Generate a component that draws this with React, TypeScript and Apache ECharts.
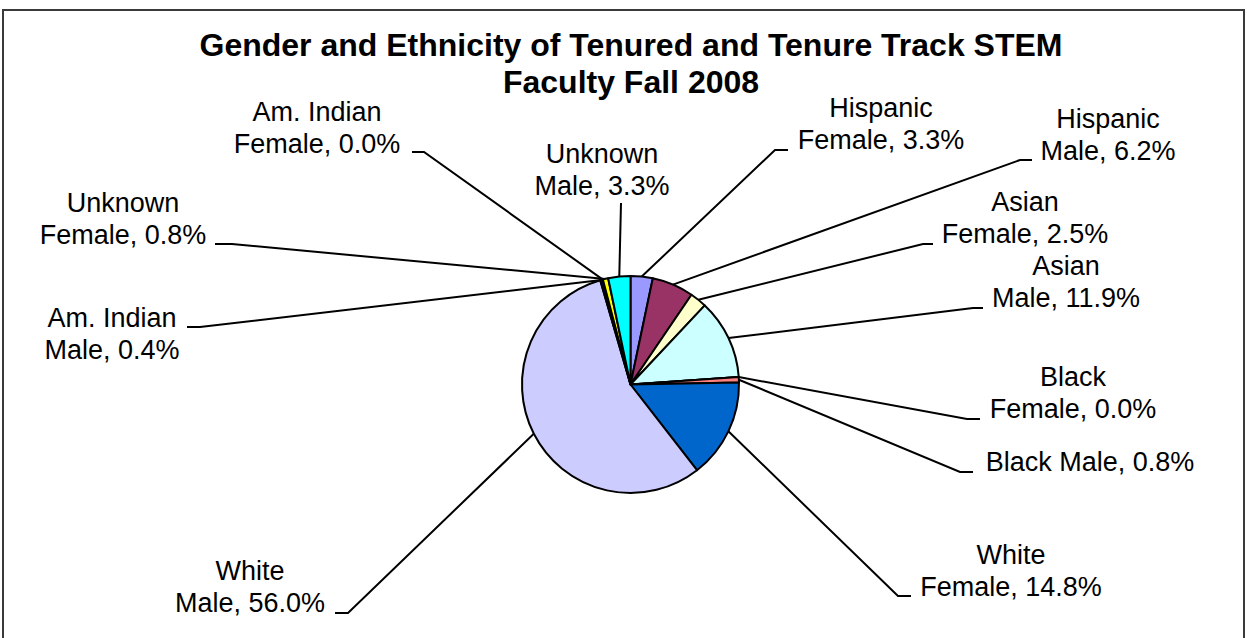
import React, { useEffect, useRef } from "react";
import * as echarts from "echarts";

// ---- data (clockwise from 12 o'clock) ----
const categories = [
  "Hispanic Female",
  "Hispanic Male",
  "Asian Female",
  "Asian Male",
  "Black Female",
  "Black Male",
  "White Female",
  "White Male",
  "Am. Indian Male",
  "Am. Indian Female",
  "Unknown Female",
  "Unknown Male",
];
const values = [3.3, 6.2, 2.5, 11.9, 0.0, 0.8, 14.8, 56.0, 0.4, 0.0, 0.8, 3.3];
const labelNames = [
  "Hispanic\nFemale",
  "Hispanic\nMale",
  "Asian\nFemale",
  "Asian\nMale",
  "Black\nFemale",
  "Black Male",
  "White\nFemale",
  "White\nMale",
  "Am. Indian\nMale",
  "Am. Indian\nFemale",
  "Unknown\nFemale",
  "Unknown\nMale",
];
const titleText = "Gender and Ethnicity of Tenured and Tenure Track STEM\nFaculty Fall 2008";

// ---- styles ----
const colors = [
  "#9999FF",
  "#993366",
  "#FFFFCC",
  "#CCFFFF",
  "#660066",
  "#FF8080",
  "#0066CC",
  "#CCCCFF",
  "#000080",
  "#FF00FF",
  "#FFFF00",
  "#00FFFF",
];
// label placement: text centre (x, y) and leader line bend (tx) / end (ex) at height ly
const labelPlace = [
  { x: 881, y: 124, tx: 775, ex: 788, ly: 150 },
  { x: 1108, y: 135, tx: 1020, ex: 1032, ly: 160 },
  { x: 1025, y: 218, tx: 923, ex: 933, ly: 244 },
  { x: 1066, y: 282, tx: 973, ex: 983, ly: 308 },
  { x: 1073, y: 393, tx: 967, ex: 980, ly: 419 },
  { x: 1090, y: 462, tx: 960, ex: 973, ly: 472 },
  { x: 1011, y: 571, tx: 898, ex: 911, ly: 596 },
  { x: 250, y: 587, tx: 348, ex: 335, ly: 613 },
  { x: 112, y: 334, tx: 200, ex: 187, ly: 327 },
  { x: 317, y: 128, tx: 424, ex: 412, ly: 152 },
  { x: 123, y: 219, tx: 232, ex: 215, ly: 244 },
  { x: 602, y: 170, tx: 621, ex: 621, ly: 203 },
];
const FONT = "'Liberation Sans', Arial, Helvetica, sans-serif";

export default function App() {
  const ref = useRef<HTMLDivElement>(null);
  useEffect(() => {
    document.body.style.margin = "0";
    const chart = echarts.init(ref.current!, null, { renderer: "svg" });
    chart.setOption({
      animation: false,
      backgroundColor: "#ffffff",
      graphic: [
        {
          type: "rect",
          shape: { x: 3, y: 10, width: 1241, height: 660 },
          style: { fill: "none", stroke: "#3a3a3a", lineWidth: 2 },
          z: 0,
        },
        {
          type: "text",
          x: 631,
          y: 26,
          style: {
            text: titleText,
            fontSize: 32,
            fontWeight: "bold",
            fontFamily: FONT,
            lineHeight: 37,
            align: "center",
            verticalAlign: "top",
            fill: "#000",
          },
        },
      ],
      series: [
        {
          type: "pie",
          center: [630.5, 384.5],
          radius: 108.5,
          startAngle: 90,
          clockwise: true,
          avoidLabelOverlap: false,
          minShowLabelAngle: 0,
          stillShowZeroSum: true,
          itemStyle: { borderColor: "#000", borderWidth: 2 },
          emphasis: { disabled: true },
          label: {
            show: true,
            position: "outside",
            fontSize: 27,
            lineHeight: 32,
            fontFamily: FONT,
            color: "#000",
            formatter: (p: any) =>
              `${labelNames[p.dataIndex]}, ${Number(p.value).toFixed(1)}%`,
          },
          labelLine: {
            show: true,
            length: 20,
            length2: 20,
            smooth: false,
            lineStyle: { color: "#000", width: 2 },
          },
          labelLayout: (params: any) => {
            const lp = labelPlace[params.dataIndex];
            const pts = params.labelLinePoints;
            const start = pts && pts[0] ? pts[0] : [lp.tx, lp.ly];
            return {
              x: lp.x,
              y: lp.y,
              align: "center",
              verticalAlign: "middle",
              labelLinePoints: [start, [lp.tx, lp.ly], [lp.ex, lp.ly]],
            };
          },
          data: categories.map((name, i) => ({
            name,
            value: values[i],
            itemStyle: { color: colors[i] },
          })),
        },
      ],
    });
    return () => chart.dispose();
  }, []);
  return <div ref={ref} style={{ width: 1247, height: 638 }} />;
}
